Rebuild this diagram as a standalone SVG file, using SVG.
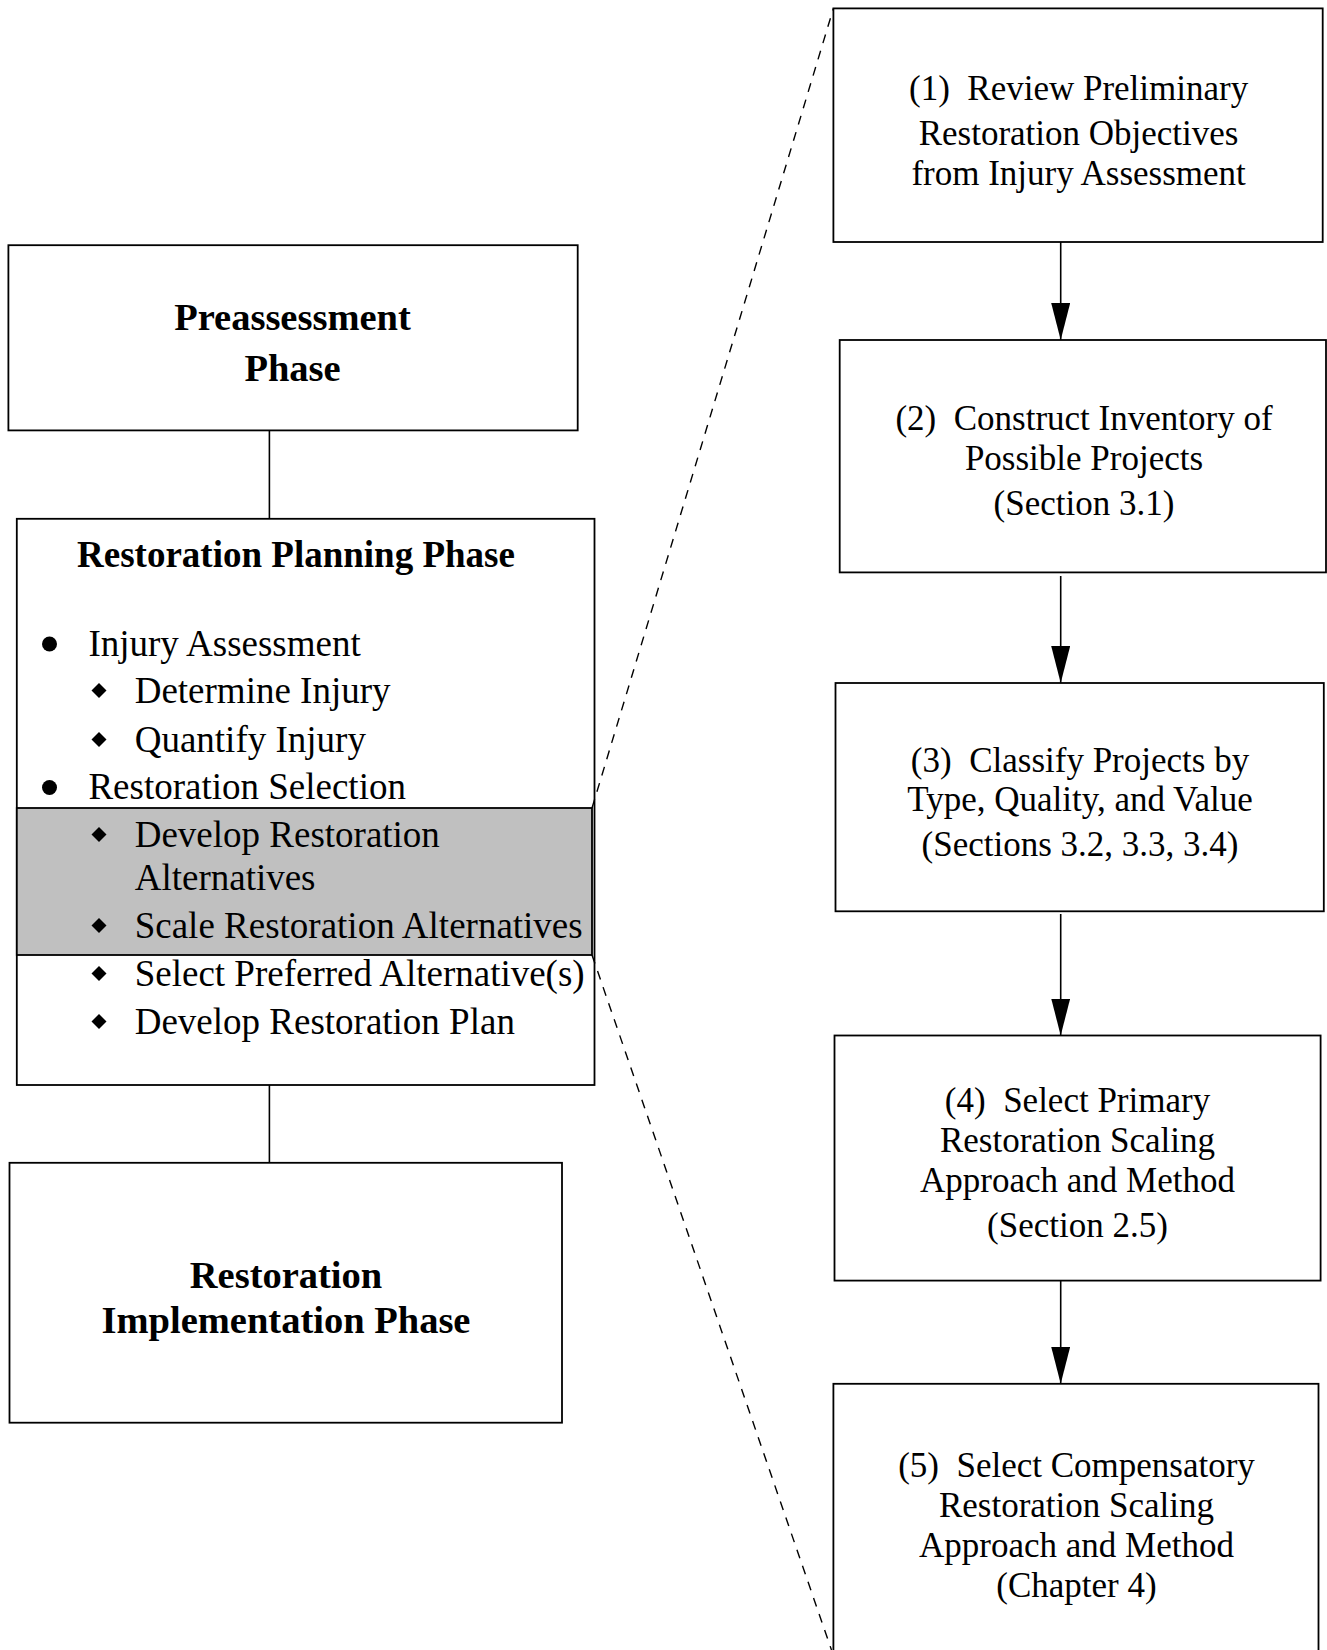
<svg xmlns="http://www.w3.org/2000/svg" width="1327" height="1650" viewBox="0 0 1327 1650">
<style>
.box{fill:#fff;stroke:#000;stroke-width:1.8}
.hl{fill:#c0c0c0;stroke:#000;stroke-width:1.8}
.ln{stroke:#000;stroke-width:1.6;fill:none}
.dash{stroke:#000;stroke-width:1.4;fill:none;stroke-dasharray:9 8}
.t{font-family:"Liberation Serif","Times New Roman",serif;fill:#000;white-space:pre}
.b{font-weight:bold;font-size:38.5px;text-anchor:middle}
.li{font-size:37px}
.r{font-size:35px;text-anchor:middle}
</style>
<defs>
<marker id="ah" markerUnits="userSpaceOnUse" markerWidth="37" markerHeight="19" refX="37" refY="9.5" orient="auto" viewBox="0 0 37 19">
<path d="M0,0 L37,9.5 L0,19 Z" fill="#000"/>
</marker>
</defs>
<rect width="1327" height="1650" fill="#fff"/>
<g id="connectors">
<line class="ln" x1="269.4" y1="430" x2="269.4" y2="519"/>
<line class="ln" x1="269.4" y1="1085" x2="269.4" y2="1163"/>
<line class="ln" x1="1060.7" y1="238" x2="1060.7" y2="340" marker-end="url(#ah)"/>
<line class="ln" x1="1060.7" y1="576" x2="1060.7" y2="683" marker-end="url(#ah)"/>
<line class="ln" x1="1060.7" y1="914" x2="1060.7" y2="1035.5" marker-end="url(#ah)"/>
<line class="ln" x1="1060.7" y1="1281" x2="1060.7" y2="1383.8" marker-end="url(#ah)"/>
</g>
<g id="preassessment">
<rect class="box" x="8.4" y="245.2" width="569.3" height="185.2"/>
<text class="t b" x="292.5" y="330">Preassessment</text>
<text class="t b" x="292.5" y="381">Phase</text>
</g>
<g id="planning">
<rect class="box" x="16.8" y="518.8" width="577.7" height="566.2"/>
<rect class="hl" x="16.8" y="808" width="575.2" height="147"/>
<text class="t" x="296" y="567" style="font-weight:bold;font-size:37px;text-anchor:middle">Restoration Planning Phase</text>
<circle cx="49.5" cy="644" r="7.5" fill="#000"/>
<text class="t li" x="88.4" y="656">Injury Assessment</text>
<path d="M99,683 l7.5,7.5 l-7.5,7.5 l-7.5,-7.5 Z" fill="#000"/>
<text class="t li" x="134.7" y="703">Determine Injury</text>
<path d="M99,732 l7.5,7.5 l-7.5,7.5 l-7.5,-7.5 Z" fill="#000"/>
<text class="t li" x="134.7" y="752">Quantify Injury</text>
<circle cx="49.5" cy="787.5" r="7.5" fill="#000"/>
<text class="t li" x="88.4" y="799">Restoration Selection</text>
<path d="M99,827 l7.5,7.5 l-7.5,7.5 l-7.5,-7.5 Z" fill="#000"/>
<text class="t li" x="134.7" y="847">Develop Restoration</text>
<text class="t li" x="134.7" y="890">Alternatives</text>
<path d="M99,918 l7.5,7.5 l-7.5,7.5 l-7.5,-7.5 Z" fill="#000"/>
<text class="t li" x="134.7" y="938">Scale Restoration Alternatives</text>
<path d="M99,966 l7.5,7.5 l-7.5,7.5 l-7.5,-7.5 Z" fill="#000"/>
<text class="t li" x="134.7" y="986">Select Preferred Alternative(s)</text>
<path d="M99,1014 l7.5,7.5 l-7.5,7.5 l-7.5,-7.5 Z" fill="#000"/>
<text class="t li" x="134.7" y="1034">Develop Restoration Plan</text>
</g>
<g id="implementation">
<rect class="box" x="9.5" y="1162.8" width="552.5" height="259.9"/>
<text class="t b" x="286" y="1288">Restoration</text>
<text class="t b" x="286" y="1333">Implementation Phase</text>
</g>
<g id="zoom-lines">
<line class="dash" x1="592" y1="808" x2="833.4" y2="8.4"/>
<line class="dash" x1="592" y1="955" x2="831.5" y2="1650"/>
</g>
<g id="step1">
<rect class="box" x="833.4" y="8.4" width="489.3" height="233.6"/>
<text class="t r" x="1078.6" y="100">(1)&#160; Review Preliminary</text>
<text class="t r" x="1078.6" y="145">Restoration Objectives</text>
<text class="t r" x="1078.6" y="185">from Injury Assessment</text>
</g>
<g id="step2">
<rect class="box" x="839.7" y="340" width="486.3" height="232.4"/>
<text class="t r" x="1084" y="430">(2)&#160; Construct Inventory of</text>
<text class="t r" x="1084" y="470">Possible Projects</text>
<text class="t r" x="1084" y="515">(Section 3.1)</text>
</g>
<g id="step3">
<rect class="box" x="835.5" y="683" width="488.3" height="228.3"/>
<text class="t r" x="1080" y="772">(3)&#160; Classify Projects by</text>
<text class="t r" x="1080" y="811">Type, Quality, and Value</text>
<text class="t r" x="1080" y="856">(Sections 3.2, 3.3, 3.4)</text>
</g>
<g id="step4">
<rect class="box" x="834.5" y="1035.5" width="486.1" height="245.1"/>
<text class="t r" x="1077.5" y="1112">(4)&#160; Select Primary</text>
<text class="t r" x="1077.5" y="1152">Restoration Scaling</text>
<text class="t r" x="1077.5" y="1192">Approach and Method</text>
<text class="t r" x="1077.5" y="1237">(Section 2.5)</text>
</g>
<g id="step5">
<rect class="box" x="833.4" y="1383.8" width="485.1" height="290"/>
<text class="t r" x="1076.5" y="1477">(5)&#160; Select Compensatory</text>
<text class="t r" x="1076.5" y="1517">Restoration Scaling</text>
<text class="t r" x="1076.5" y="1557">Approach and Method</text>
<text class="t r" x="1076.5" y="1597">(Chapter 4)</text>
</g>
</svg>
